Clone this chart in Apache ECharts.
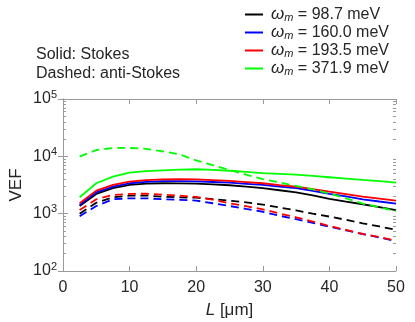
<!DOCTYPE html>
<html>
<head>
<meta charset="utf-8">
<script src="https://cdn.jsdelivr.net/npm/echarts@6/dist/echarts.min.js"></script>
<style>
  html, body { margin: 0; padding: 0; background: #fff; }
  #chart { width: 415px; height: 322px; }
</style>
</head>
<body>
<div id="chart"></div>
<script>
// fibre length L (µm)
const L = [2.5, 5, 7.5, 10, 12.5, 15, 17.5, 20, 22.5, 25, 27.5, 30, 32.5, 35, 37.5, 40, 42.5, 45, 47.5, 50];

// phonon energies (meV) for legend
const omegas = ['98.7', '160.0', '193.5', '371.9'];
const colors = ['#000000', '#0000ff', '#ff0000', '#00ff00'];

// Stokes (solid)
const stokes987 = [1360, 2210, 2780, 3170, 3330, 3390, 3380, 3330, 3250, 3130, 2960, 2780, 2560, 2360, 2080, 1810, 1620, 1460, 1300, 1150];
const stokes1600 = [1420, 2360, 2960, 3390, 3580, 3680, 3700, 3650, 3570, 3480, 3320, 3170, 2970, 2780, 2500, 2210, 2000, 1780, 1630, 1500];
const stokes1935 = [1520, 2520, 3170, 3620, 3850, 3950, 4000, 3950, 3850, 3720, 3550, 3390, 3150, 2950, 2680, 2420, 2200, 1980, 1830, 1690];
const stokes3719 = [1930, 3390, 4420, 5200, 5500, 5700, 5850, 5950, 5800, 5600, 5350, 5100, 4950, 4790, 4550, 4320, 4100, 3870, 3680, 3480];

// anti-Stokes (dashed)
const anti987 = [1000, 1550, 1930, 2060, 2070, 1980, 1930, 1900, 1800, 1690, 1580, 1440, 1280, 1140, 1000, 890, 780, 680, 600, 520];
const anti1600 = [900, 1360, 1780, 1850, 1850, 1780, 1740, 1690, 1520, 1360, 1210, 1080, 920, 800, 690, 593, 510, 442, 385, 330];
const anti1935 = [1160, 1780, 2120, 2210, 2230, 2150, 2060, 1960, 1750, 1520, 1350, 1190, 1010, 865, 730, 610, 520, 442, 390, 338];
const anti3719 = [9890, 12900, 14000, 14000, 13500, 12200, 10800, 8500, 7000, 5800, 4800, 4000, 3500, 3050, 2650, 2250, 1850, 1500, 1290, 1110];

// axis ticks
const xTicks = [0, 10, 20, 30, 40, 50];
const yMajor = [100, 1000, 10000, 100000];
const yMinorMult = [2, 3, 4, 5, 6, 7, 8, 9];

const fontFam = 'Arial, "Liberation Sans", sans-serif';
const textColor = '#262626';
const axisColor = '#9a9a9a';

const chart = echarts.init(document.getElementById('chart'));

const stokes = [stokes987, stokes1600, stokes1935, stokes3719];
const anti = [anti987, anti1600, anti1935, anti3719];

function pairs(ys) {
  return L.map((x, i) => [x, ys[i]]);
}

// minor tick positions on a log axis, in log10 units for the helper axes
let minorLog = [];
for (let d = 2; d < 5; d++) {
  yMinorMult.forEach(k => minorLog.push(Math.log10(k * Math.pow(10, d))));
}

let series = [];
stokes.forEach((ys, i) => {
  series.push({
    name: 'w' + i,
    type: 'line',
    data: pairs(ys),
    symbol: 'none',
    lineStyle: { color: colors[i], width: 1.8 },
    itemStyle: { color: colors[i] },
    animation: false
  });
});
anti.forEach((ys, i) => {
  series.push({
    name: 'anti' + i,
    type: 'line',
    data: pairs(ys),
    symbol: 'none',
    lineStyle: { color: colors[i], width: 1.8, type: [8, 5] },
    itemStyle: { color: colors[i] },
    animation: false
  });
});

const minorAxisBase = {
  type: 'value',
  min: 2,
  max: 5,
  axisLine: { show: false },
  axisLabel: { show: false },
  splitLine: { show: false },
  axisTick: {
    show: true,
    inside: true,
    length: 3,
    customValues: minorLog,
    lineStyle: { color: axisColor, width: 1 }
  }
};

const option = {
  backgroundColor: '#fff',
  animation: false,
  grid: {
    left: 63, right: 19, top: 99, bottom: 51,
    containLabel: false,
    outerBoundsMode: 'none'
  },
  legend: {
    data: ['w0', 'w1', 'w2', 'w3'],
    orient: 'vertical',
    left: 245,
    top: 6,
    padding: 0,
    icon: 'rect',
    itemWidth: 18,
    itemHeight: 2,
    itemGap: 1,
    formatter: function (name) {
      const i = Number(name.slice(1));
      return '{w|ω}{s|m}{t| = ' + omegas[i] + ' meV}';
    },
    textStyle: {
      color: textColor,
      fontFamily: fontFam,
      fontSize: 16,
      padding: [0, 0, 0, 3],
      rich: {
        w: { fontSize: 17, fontStyle: 'italic', fontFamily: fontFam, color: textColor },
        s: { fontSize: 11, fontStyle: 'italic', fontFamily: fontFam, color: textColor, padding: [6, 0, 0, 0] },
        t: { fontSize: 16, fontFamily: fontFam, color: textColor }
      }
    }
  },
  graphic: [{
    type: 'text',
    left: 36,
    top: 45,
    style: {
      text: 'Solid: Stokes\nDashed: anti-Stokes',
      font: '16px ' + fontFam,
      fill: textColor,
      lineHeight: 19
    }
  }],
  xAxis: [{
    type: 'value',
    min: 0,
    max: 50,
    interval: 10,
    name: '{i|L} [μm]',
    nameLocation: 'middle',
    nameGap: 31,
    nameMoveOverlap: false,
    nameTextStyle: {
      color: textColor,
      fontFamily: fontFam,
      fontSize: 17,
      rich: {
        i: { fontStyle: 'italic', fontSize: 17, fontFamily: fontFam, color: textColor }
      }
    },
    axisLine: { show: true, lineStyle: { color: axisColor, width: 1 } },
    axisTick: { show: true, inside: true, length: 5, lineStyle: { color: axisColor } },
    axisLabel: { color: textColor, fontFamily: fontFam, fontSize: 16, margin: 9, customValues: xTicks },
    splitLine: { show: false }
  }, {
    type: 'value',
    position: 'top',
    min: 0,
    max: 50,
    interval: 10,
    axisLine: { show: true, lineStyle: { color: axisColor, width: 1 } },
    axisTick: { show: true, inside: true, length: 5, lineStyle: { color: axisColor } },
    axisLabel: { show: false },
    splitLine: { show: false }
  }],
  yAxis: [{
    type: 'log',
    logBase: 10,
    min: yMajor[0],
    max: yMajor[yMajor.length - 1],
    name: 'VEF',
    nameLocation: 'middle',
    nameRotate: 90,
    nameGap: 38,
    nameMoveOverlap: false,
    nameTextStyle: { color: textColor, fontFamily: fontFam, fontSize: 17 },
    axisLine: { show: true, lineStyle: { color: axisColor, width: 1 } },
    axisTick: { show: true, inside: true, length: 5, lineStyle: { color: axisColor } },
    axisLabel: {
      color: textColor,
      margin: 6,
      formatter: function (v) {
        return '{b|10}{e|' + Math.round(Math.log10(v)) + '}';
      },
      rich: {
        b: { fontSize: 16, fontFamily: fontFam, color: textColor },
        e: { fontSize: 11, fontFamily: fontFam, color: textColor, padding: [0, 0, 9, 0] }
      }
    },
    splitLine: { show: false }
  }, {
    type: 'log',
    logBase: 10,
    position: 'right',
    min: yMajor[0],
    max: yMajor[yMajor.length - 1],
    axisLine: { show: true, lineStyle: { color: axisColor, width: 1 } },
    axisTick: { show: true, inside: true, length: 5, lineStyle: { color: axisColor } },
    axisLabel: { show: false },
    splitLine: { show: false }
  },
  Object.assign({}, minorAxisBase, { position: 'left' }),
  Object.assign({}, minorAxisBase, { position: 'right' })
  ],
  series: series
};

chart.setOption(option);
</script>
</body>
</html>
